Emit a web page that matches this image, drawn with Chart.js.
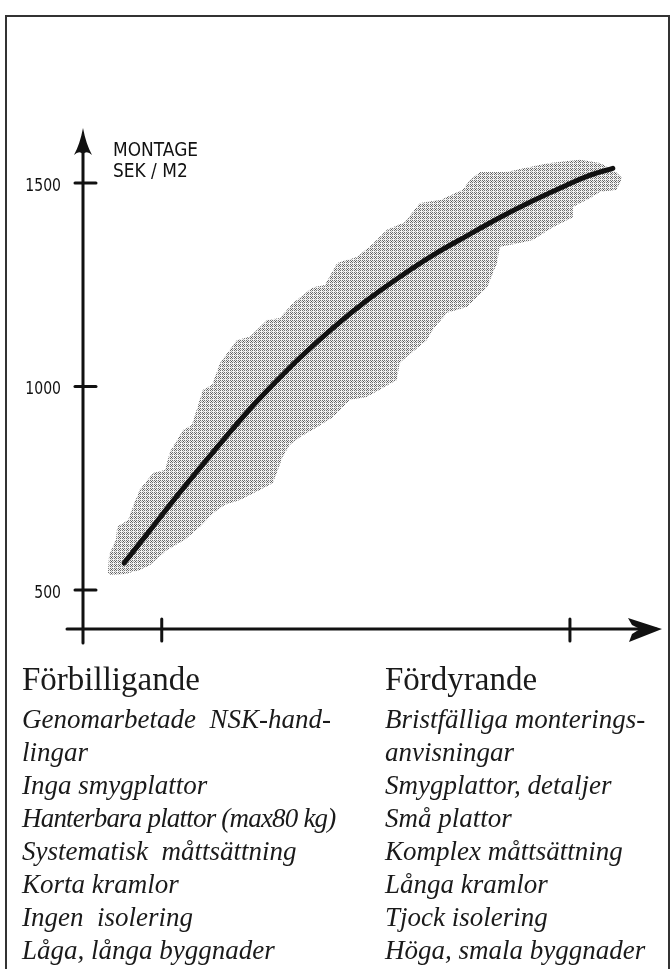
<!DOCTYPE html>
<html>
<head>
<meta charset="utf-8">
<script src="https://cdn.jsdelivr.net/npm/chart.js@4/dist/chart.umd.min.js"></script>
<style>
  body { margin: 0; background: #fff; }
  #wrap { position: relative; width: 671px; height: 969px; overflow: hidden; }
  #frame { position: absolute; left: 5px; top: 15px; width: 661px; height: 980px;
           border: 2px solid #333; border-bottom: none; }
  #chart { position: absolute; left: 0; top: 0; }
  .col { position: absolute; top: 659px; color: #1a1a1a; font-family: "Liberation Serif", serif; }
  .head { font-size: 33px; line-height: 40px; margin-bottom: 4px; }
  .item { font-size: 27px; line-height: 33px; font-style: italic; white-space: pre; }
</style>
</head>
<body>
<div id="wrap">
  <div id="frame"></div>
  <canvas id="chart" width="671" height="660"></canvas>
  <div class="col" id="left" style="left:22px"></div>
  <div class="col" id="right" style="left:385px"></div>
</div>
<script>
// main curve: montage time (sek/m2) vs. building factors
const curveX = [7.1, 11.6, 15.9, 20.2, 24.5, 28.8, 33.2, 37.5, 43.2, 49.0, 54.7, 60.4, 66.3, 72.0, 77.7, 83.6, 87.6, 91.5];
const curveY = [566, 647, 725, 800, 873, 944, 1010, 1071, 1144, 1211, 1269, 1322, 1370, 1415, 1456, 1495, 1519, 1536];

// grey spread around the curve, upper edge left->right, lower edge right->left
const bandUpperX = [4.3, 4.5, 5.7, 5.9, 7.8, 8.6, 9.8, 12.1, 14.2, 15.0, 17.3, 18.8, 20.7, 22.3, 23.7, 26.6, 28.8, 31.8, 34.0, 36.3, 39.7, 41.8, 43.9, 47.3, 49.9, 52.5, 55.6, 58.2, 61.7, 65.6, 66.8, 68.6, 73.2, 76.3, 80.6, 85.8, 89.3, 92.2, 93.1];
const bandUpperY = [542, 586, 623, 655, 672, 704, 746, 787, 795, 839, 893, 905, 991, 1004, 1058, 1114, 1122, 1163, 1168, 1205, 1244, 1249, 1303, 1318, 1348, 1385, 1404, 1451, 1458, 1483, 1507, 1527, 1527, 1537, 1549, 1557, 1549, 1525, 1512];
const bandLowerX = [92.2, 89.3, 87.6, 84.6, 84.6, 81.2, 77.7, 74.6, 72.0, 71.5, 69.8, 66.3, 62.9, 60.4, 59.4, 54.7, 54.2, 49.0, 46.1, 43.2, 40.4, 37.5, 35.7, 34.5, 32.8, 30.6, 27.1, 24.5, 22.5, 20.2, 17.6, 14.5, 11.6, 9.8, 7.3, 4.7];
const bandLowerY = [1483, 1478, 1463, 1441, 1416, 1392, 1360, 1350, 1343, 1303, 1244, 1195, 1181, 1139, 1114, 1058, 1016, 974, 967, 925, 900, 876, 856, 827, 763, 746, 721, 709, 689, 655, 623, 598, 561, 549, 539, 537];

const yTicks = [500, 1000, 1500];
const xTicks = [13.6, 84.1];
const yTitle = ['MONTAGE', 'SEK / M2'];

const cheapHead = 'Förbilligande';
const cheapItems = ['Genomarbetade  NSK-hand-', 'lingar', 'Inga smygplattor', 'Hanterbara plattor (max80 kg)',
  'Systematisk  måttsättning', 'Korta kramlor', 'Ingen  isolering', 'Låga, långa byggnader'];
const costlyHead = 'Fördyrande';
const costlyItems = ['Bristfälliga monterings-', 'anvisningar', 'Smygplattor, detaljer', 'Små plattor',
  'Komplex måttsättning', 'Långa kramlor', 'Tjock isolering', 'Höga, smala byggnader'];

function fillColumn(id, head, items) {
  const col = document.getElementById(id);
  const h = document.createElement('div');
  h.className = 'head';
  h.textContent = head;
  col.appendChild(h);
  items.forEach(t => {
    const d = document.createElement('div');
    d.className = 'item';
    d.textContent = t;
    if (t.indexOf('(max') >= 0) d.style.letterSpacing = '-0.8px';
    col.appendChild(d);
  });
}
fillColumn('left', cheapHead, cheapItems);
fillColumn('right', costlyHead, costlyItems);

// stippled grey like the printed screen
const pc = document.createElement('canvas');
pc.width = 4; pc.height = 4;
const pctx = pc.getContext('2d');
pctx.fillStyle = '#f4f4f4'; pctx.fillRect(0, 0, 4, 4);
pctx.fillStyle = '#6f6f6f';
pctx.fillRect(0, 0, 1, 1); pctx.fillRect(2, 0, 1, 1); pctx.fillRect(0, 2, 1, 1); pctx.fillRect(2, 2, 1, 1);
pctx.fillStyle = '#b4b4b4';
pctx.fillRect(1, 1, 1, 1); pctx.fillRect(3, 3, 1, 1);
pctx.fillStyle = '#555';
pctx.fillRect(3, 1, 1, 1);
const stipple = pctx.createPattern(pc, 'repeat');

const bandPts = bandUpperX.map((x, i) => ({x: x, y: bandUpperY[i]}))
  .concat(bandLowerX.map((x, i) => ({x: x, y: bandLowerY[i]})));
const curvePts = curveX.map((x, i) => ({x: x, y: curveY[i]}));

function handText(ctx, text, x, y, size, align, squeeze) {
  ctx.save();
  ctx.font = size + 'px "DejaVu Sans"';
  ctx.textBaseline = 'middle';
  ctx.textAlign = align;
  ctx.translate(x, y);
  ctx.scale(squeeze, 1);
  ctx.fillText(text, 0, 0);
  ctx.restore();
}

const handAxes = {
  id: 'handAxes',
  afterDatasetsDraw(chart) {
    const ctx = chart.ctx;
    const xs = chart.scales.x, ys = chart.scales.y;
    const x0 = xs.getPixelForValue(xs.min);
    const y0 = ys.getPixelForValue(ys.min);
    const xEnd = xs.getPixelForValue(xs.max);
    const yEnd = ys.getPixelForValue(ys.max);
    ctx.save();
    ctx.strokeStyle = '#111';
    ctx.fillStyle = '#111';
    ctx.lineWidth = 3;
    ctx.lineCap = 'round';

    // y axis
    ctx.beginPath();
    ctx.moveTo(x0, y0 + 14);
    ctx.lineTo(x0, yEnd + 20);
    ctx.stroke();
    ctx.beginPath();
    ctx.moveTo(x0, yEnd);
    ctx.quadraticCurveTo(x0 + 3, yEnd + 16, x0 + 9, yEnd + 27);
    ctx.quadraticCurveTo(x0 + 4, yEnd + 22, x0, yEnd + 26);
    ctx.quadraticCurveTo(x0 - 4, yEnd + 22, x0 - 9, yEnd + 27);
    ctx.quadraticCurveTo(x0 - 3, yEnd + 16, x0, yEnd);
    ctx.fill();

    // x axis
    ctx.beginPath();
    ctx.moveTo(x0 - 16, y0);
    ctx.lineTo(xEnd - 6, y0);
    ctx.stroke();
    ctx.beginPath();
    ctx.moveTo(xEnd, y0);
    ctx.lineTo(xEnd - 34, y0 - 11);
    ctx.lineTo(xEnd - 30, y0 - 4);
    ctx.lineTo(xEnd - 22, y0);
    ctx.lineTo(xEnd - 30, y0 + 5);
    ctx.lineTo(xEnd - 33, y0 + 13);
    ctx.closePath();
    ctx.fill();

    // ticks
    yTicks.forEach(v => {
      const py = ys.getPixelForValue(v);
      ctx.beginPath();
      ctx.moveTo(x0 - 8, py);
      ctx.lineTo(x0 + 13, py);
      ctx.stroke();
      handText(ctx, String(v), x0 - 22, py + 3, 18, 'right', 0.78);
    });
    xTicks.forEach(v => {
      const px = xs.getPixelForValue(v);
      ctx.beginPath();
      ctx.moveTo(px, y0 - 10);
      ctx.lineTo(px, y0 + 12);
      ctx.stroke();
    });

    // axis title
    handText(ctx, yTitle[0], x0 + 30, yEnd + 23, 20, 'left', 0.85);
    handText(ctx, yTitle[1], x0 + 30, yEnd + 44, 20, 'left', 0.85);
    ctx.restore();
  }
};

new Chart(document.getElementById('chart'), {
  type: 'scatter',
  data: {
    datasets: [{
      data: bandPts,
      order: 2,
      showLine: true,
      fill: 'shape',
      backgroundColor: stipple,
      borderWidth: 0,
      pointRadius: 0,
      tension: 0,
    }, {
      data: curvePts,
      order: 1,
      showLine: true,
      borderColor: '#111',
      borderWidth: 5,
      borderCapStyle: 'round',
      pointRadius: 0,
      cubicInterpolationMode: 'monotone',
    }],
  },
  options: {
    responsive: false,
    animation: false,
    devicePixelRatio: 1,
    layout: {
      padding: {left: 83, right: 9, top: 128, bottom: 31},
    },
    scales: {
      x: {type: 'linear', min: 0, max: 100, display: false},
      y: {type: 'linear', min: 404, max: 1635, display: false},
    },
    plugins: {
      legend: {display: false},
      tooltip: {enabled: false},
    },
  },
  plugins: [handAxes],
});
</script>
</body>
</html>
